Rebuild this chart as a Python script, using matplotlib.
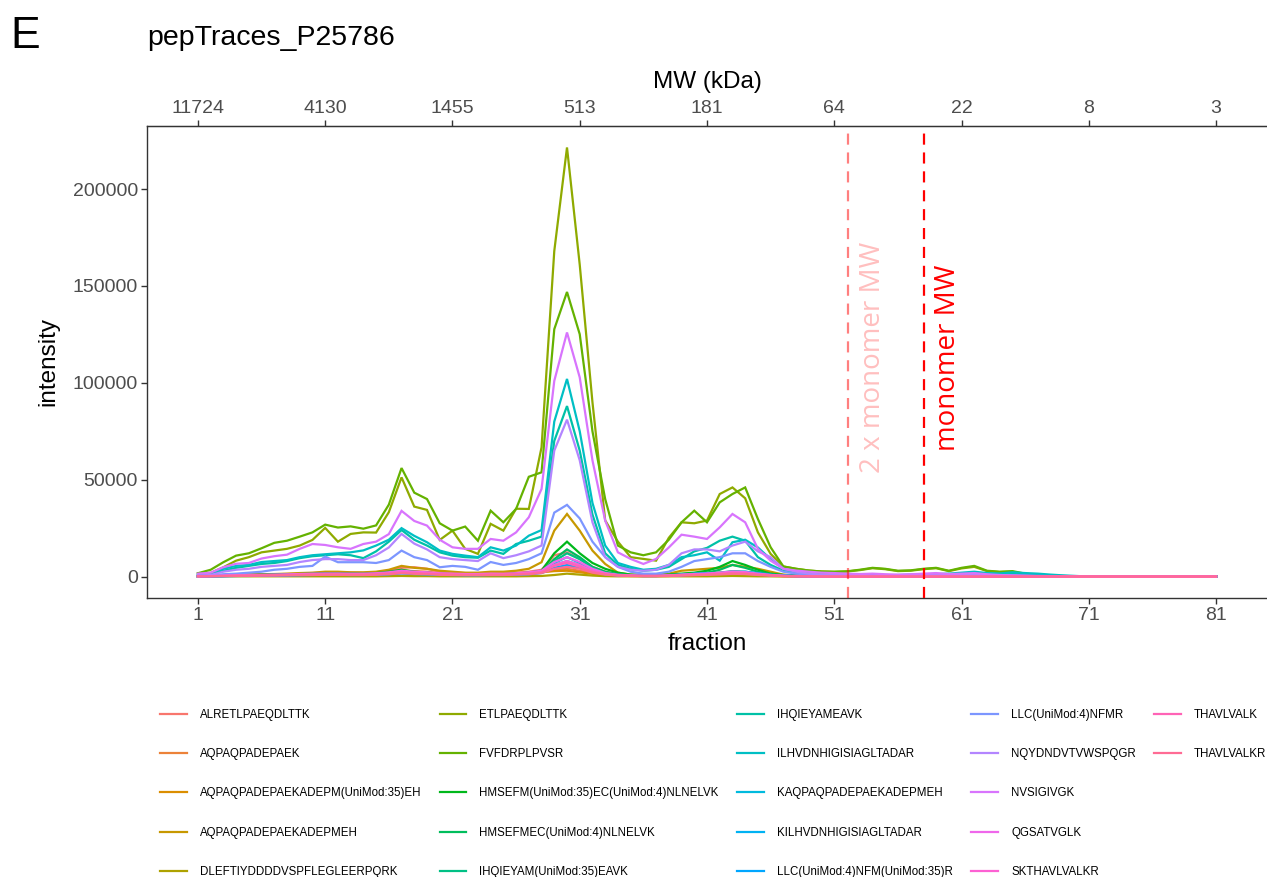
import numpy as np
import matplotlib
matplotlib.use("Agg")
import matplotlib.pyplot as plt
from matplotlib.lines import Line2D

plt.rcParams['font.family'] = ['Liberation Sans', 'DejaVu Sans']

# fractions and the MW (kDa) scale on top
fractions = np.arange(1, 82)
frac_ticks = [1, 11, 21, 31, 41, 51, 61, 71, 81]
mw_labels = ['11724', '4130', '1455', '513', '181', '64', '22', '8', '3']
y_ticks = [0, 50000, 100000, 150000, 200000]

# fraction of the monomer MW and 2 x monomer MW
monomer_frac = 58.05
dimer_frac = 52.1

# peptide intensities per fraction (1..81)
alretlpaeqdlttk = [
    300, 400, 600, 800, 900, 1000, 1200, 1300, 1500, 1800,
    2000, 2200, 2000, 1800, 2200, 3000, 4500, 4800, 4000, 2500,
    2000, 1800, 1500, 1800, 1800, 2000, 2500, 3500, 11000, 12500,
    9000, 5000, 2500, 1200, 800, 600, 600, 800, 1200, 1500,
    1800, 2000, 2500, 2200, 1500, 800, 400, 300, 200, 150,
    100, 100, 100, 100, 100, 100, 100, 100, 100, 100,
    100, 100, 100, 50, 50, 50, 0, 0, 0, 0,
    0, 0, 0, 0, 0, 0, 0, 0, 0, 0, 0]
aqpaqpadepaek = [
    200, 300, 500, 700, 800, 900, 1000, 1100, 1200, 1400,
    1600, 1700, 1600, 1500, 1700, 2200, 3200, 2800, 2500, 1800,
    1500, 1300, 1200, 1400, 1400, 1600, 2000, 2800, 3500, 4000,
    3000, 1800, 1000, 600, 400, 300, 300, 500, 800, 1000,
    1200, 1500, 2000, 1800, 1200, 600, 300, 200, 100, 100,
    50, 50, 50, 50, 50, 50, 50, 50, 50, 50,
    50, 50, 0, 0, 0, 0, 0, 0, 0, 0,
    0, 0, 0, 0, 0, 0, 0, 0, 0, 0, 0]
aqpaq_m35eh = [
    100, 200, 300, 400, 500, 600, 700, 800, 900, 1000,
    1100, 1100, 1000, 1000, 1100, 1500, 2200, 1800, 1600, 1200,
    1000, 900, 900, 1000, 1000, 1200, 1500, 2200, 2800, 3000,
    2200, 1400, 800, 500, 300, 200, 200, 300, 500, 700,
    900, 1100, 1500, 1300, 900, 500, 300, 200, 100, 100,
    0, 0, 0, 0, 0, 0, 0, 0, 0, 0,
    0, 0, 0, 0, 0, 0, 0, 0, 0, 0,
    0, 0, 0, 0, 0, 0, 0, 0, 0, 0, 0]
aqpaq_meh = [
    200, 300, 500, 800, 1000, 1200, 1300, 1500, 1800, 2000,
    2500, 2500, 2200, 2200, 2500, 3500, 5500, 4500, 4000, 3000,
    2500, 2000, 2000, 2500, 2500, 3000, 4000, 7400, 23700, 32300,
    23700, 13400, 6500, 2000, 1000, 800, 800, 1500, 3000, 3500,
    4000, 4500, 6000, 5000, 4000, 2500, 1000, 600, 400, 300,
    200, 200, 200, 200, 150, 150, 150, 150, 150, 150,
    150, 150, 100, 100, 100, 50, 0, 0, 0, 0,
    0, 0, 0, 0, 0, 0, 0, 0, 0, 0, 0]
dleftiy = [
    0, 0, 100, 100, 100, 100, 100, 100, 100, 100,
    100, 100, 100, 100, 100, 200, 300, 200, 200, 100,
    100, 100, 100, 100, 100, 100, 200, 300, 800, 1500,
    1000, 500, 200, 100, 100, 100, 100, 100, 100, 100,
    100, 200, 300, 200, 100, 100, 0, 0, 0, 0,
    0, 0, 0, 0, 0, 0, 0, 0, 0, 0,
    0, 0, 0, 0, 0, 0, 0, 0, 0, 0,
    0, 0, 0, 0, 0, 0, 0, 0, 0, 0, 0]
etlpaeqdlttk = [
    1700, 1900, 4800, 8200, 10000, 12500, 13400, 14300, 16000, 18900,
    25100, 18000, 22000, 22800, 22700, 33200, 51200, 36100, 34400, 18900,
    23700, 14300, 11700, 27200, 23700, 35000, 34900, 66700, 168000, 221500,
    161000, 90000, 29000, 18000, 10000, 9100, 8200, 20000, 28000, 27500,
    28900, 42600, 46000, 40400, 22800, 11700, 5200, 4000, 3100, 2600,
    2400, 2600, 3300, 4300, 3800, 2800, 3000, 3800, 4300, 2800,
    4200, 5000, 2800, 2300, 2500, 1300, 700, 300, 150, 80,
    0, 0, 0, 0, 0, 0, 0, 0, 0, 0, 0]
fvfdrplpvsr = [
    1700, 3500, 7400, 10800, 12000, 14600, 17400, 18500, 20600, 22800,
    26800, 25300, 25900, 24700, 26400, 37100, 56000, 43300, 40000, 27500,
    23700, 25800, 18500, 34000, 28000, 34900, 51500, 53800, 127700, 146900,
    125100, 75000, 40000, 16000, 12500, 11000, 12500, 19000, 28000, 34000,
    28000, 38300, 42600, 46000, 29700, 15100, 5200, 4000, 3100, 2600,
    2500, 2700, 3500, 4500, 4000, 3000, 3200, 4000, 4500, 3000,
    4500, 5500, 3000, 2500, 2800, 1500, 800, 400, 200, 100,
    0, 0, 0, 0, 0, 0, 0, 0, 0, 0, 0]
hmsefm_m35 = [
    100, 200, 500, 700, 900, 1000, 1100, 1200, 1300, 1500,
    1800, 1700, 1600, 1500, 1800, 2500, 3500, 2500, 2000, 1500,
    1200, 1000, 1000, 1200, 1200, 1500, 2000, 3000, 12000, 18000,
    12000, 7000, 4000, 2000, 1000, 800, 800, 1000, 1500, 2000,
    3000, 5000, 8000, 6000, 3500, 1500, 800, 500, 300, 200,
    0, 0, 0, 0, 0, 0, 0, 0, 0, 0,
    0, 0, 0, 0, 0, 0, 0, 0, 0, 0,
    0, 0, 0, 0, 0, 0, 0, 0, 0, 0, 0]
hmsefmec = [
    100, 200, 400, 600, 700, 800, 900, 1000, 1100, 1200,
    1400, 1300, 1200, 1200, 1400, 2000, 3000, 2200, 1800, 1300,
    1000, 900, 900, 1000, 1000, 1300, 1700, 2500, 9000, 14000,
    10000, 5000, 2500, 1200, 700, 600, 600, 800, 1200, 1500,
    2000, 3500, 6000, 4500, 2500, 1200, 600, 400, 200, 100,
    0, 0, 0, 0, 0, 0, 0, 0, 0, 0,
    0, 0, 0, 0, 0, 0, 0, 0, 0, 0,
    0, 0, 0, 0, 0, 0, 0, 0, 0, 0, 0]
ihqieyam_m35 = [
    100, 200, 300, 500, 600, 700, 800, 900, 1000, 1100,
    1200, 1200, 1100, 1100, 1300, 1800, 2500, 2000, 1700, 1300,
    1100, 1000, 1000, 1200, 1100, 1400, 1800, 2500, 8000, 12000,
    9000, 4500, 2000, 1000, 600, 500, 500, 700, 1000, 1300,
    1600, 2000, 2800, 2500, 1600, 900, 500, 300, 200, 100,
    0, 0, 0, 0, 0, 0, 0, 0, 0, 0,
    0, 0, 0, 0, 0, 0, 0, 0, 0, 0,
    0, 0, 0, 0, 0, 0, 0, 0, 0, 0, 0]
ihqieyameavk = [
    800, 1200, 3000, 4500, 5500, 6500, 7000, 8000, 9500, 10500,
    11000, 11500, 11000, 9500, 13000, 18000, 24000, 19000, 16000, 12500,
    10800, 10000, 9700, 13400, 11700, 16800, 18500, 20600, 70000, 88000,
    65000, 32000, 12000, 6000, 4000, 3000, 3500, 5000, 9000, 13000,
    14800, 18500, 20600, 18500, 10000, 6000, 3000, 2000, 1500, 1000,
    800, 700, 600, 500, 500, 600, 700, 800, 900, 1000,
    1200, 1500, 1200, 1000, 1300, 1000, 800, 500, 300, 100,
    0, 0, 0, 0, 0, 0, 0, 0, 0, 0, 0]
ilhvdnhigisiagltadar = [
    1000, 1500, 4000, 5500, 6000, 7500, 8000, 8500, 10000, 11000,
    11500, 12000, 12500, 13500, 16000, 19000, 25000, 21000, 17700, 13400,
    11700, 10800, 10000, 15100, 13400, 16000, 21100, 24000, 80000, 102000,
    75000, 38000, 16000, 7000, 5000, 3500, 4000, 6000, 10000, 11000,
    12500, 8200, 17700, 19000, 15000, 9000, 4000, 2500, 2000, 1500,
    1200, 1000, 900, 800, 700, 800, 1000, 1200, 1300, 1500,
    2000, 2500, 1800, 1600, 2200, 1800, 1500, 1000, 600, 300,
    0, 0, 0, 0, 0, 0, 0, 0, 0, 0, 0]
kaqpaq_meh = [
    100, 200, 300, 400, 500, 600, 700, 800, 900, 1000,
    1100, 1100, 1000, 1000, 1100, 1500, 2000, 1700, 1500, 1200,
    1000, 900, 900, 1000, 1000, 1200, 1500, 2500, 7000, 10000,
    7000, 3500, 1500, 800, 500, 400, 400, 600, 900, 1200,
    1500, 1800, 2500, 2200, 1500, 800, 400, 300, 200, 100,
    0, 0, 0, 0, 0, 0, 0, 0, 0, 0,
    0, 0, 0, 0, 0, 0, 0, 0, 0, 0,
    0, 0, 0, 0, 0, 0, 0, 0, 0, 0, 0]
kilhvdnhigisiagltadar = [
    0, 100, 200, 300, 400, 500, 600, 700, 800, 900,
    1000, 1000, 900, 900, 1000, 1300, 1800, 1500, 1300, 1000,
    900, 800, 800, 900, 900, 1100, 1300, 2000, 6000, 8000,
    6000, 3000, 1300, 700, 400, 300, 300, 500, 800, 1000,
    1300, 1600, 2200, 2000, 1300, 700, 400, 200, 100, 100,
    0, 0, 0, 0, 0, 0, 0, 0, 0, 0,
    0, 0, 0, 0, 0, 0, 0, 0, 0, 0,
    0, 0, 0, 0, 0, 0, 0, 0, 0, 0, 0]
llc_nfm_m35r = [
    0, 100, 200, 300, 300, 400, 500, 600, 700, 800,
    900, 900, 800, 800, 900, 1200, 1600, 1300, 1100, 900,
    800, 700, 700, 800, 800, 1000, 1200, 1800, 4500, 6000,
    4500, 2500, 1200, 600, 400, 300, 300, 400, 700, 1500,
    1800, 1500, 2200, 2500, 1800, 900, 500, 300, 200, 100,
    100, 100, 200, 300, 400, 500, 600, 700, 800, 900,
    1000, 900, 800, 700, 600, 400, 300, 200, 100, 0,
    0, 0, 0, 0, 0, 0, 0, 0, 0, 0, 0]
llc_nfmr = [
    300, 500, 1200, 1500, 2000, 2500, 3500, 4000, 5000, 5500,
    10300, 7400, 7400, 7400, 7000, 8500, 13400, 10000, 8500, 4800,
    5500, 5000, 3500, 7500, 6000, 7000, 9000, 12000, 33000, 37000,
    30000, 18000, 10000, 5000, 2500, 1500, 1500, 2500, 5000, 8000,
    9000, 10000, 12000, 12000, 8000, 5000, 2500, 1500, 1000, 800,
    600, 500, 400, 400, 300, 300, 400, 500, 500, 400,
    500, 600, 500, 400, 300, 200, 100, 100, 0, 0,
    0, 0, 0, 0, 0, 0, 0, 0, 0, 0, 0]
nqydndvtvwspqgr = [
    500, 800, 2500, 3500, 4000, 5000, 5500, 6000, 7500, 8500,
    9000, 9000, 8500, 8500, 11000, 15000, 22000, 17000, 14000, 10000,
    9000, 8500, 8000, 12000, 9500, 11000, 13000, 16000, 65000, 81000,
    60000, 28000, 10000, 5000, 3500, 3000, 3500, 6000, 12000, 14000,
    14000, 13000, 16000, 18000, 13000, 10000, 4000, 2500, 1500, 1000,
    800, 700, 600, 600, 500, 500, 600, 700, 800, 700,
    800, 900, 700, 600, 500, 400, 300, 200, 100, 0,
    0, 0, 0, 0, 0, 0, 0, 0, 0, 0, 0]
nvsigivgk = [
    1500, 2000, 4800, 6600, 7000, 9300, 10500, 11300, 14300, 16800,
    16300, 15100, 14300, 16800, 18000, 21900, 33900, 28700, 26300, 19000,
    15100, 14300, 14300, 19400, 18500, 22800, 30600, 45200, 101000, 126000,
    102800, 60000, 28900, 12500, 9100, 6500, 9100, 15000, 21600, 20600,
    19400, 25400, 32300, 28000, 14300, 8200, 4000, 3100, 2500, 2000,
    1800, 1500, 1300, 1500, 1200, 1000, 1200, 1500, 1800, 1300,
    1500, 1800, 1200, 800, 600, 400, 200, 100, 50, 0,
    0, 0, 0, 0, 0, 0, 0, 0, 0, 0, 0]
qgsatvglk = [
    200, 300, 500, 700, 800, 900, 1000, 1100, 1300, 1500,
    1600, 1600, 1500, 1500, 1700, 2200, 3000, 2500, 2200, 1700,
    1500, 1300, 1300, 1500, 1400, 1700, 2200, 3000, 7500, 10000,
    7500, 4000, 1800, 900, 600, 400, 400, 600, 1000, 1300,
    1600, 2000, 2600, 2300, 1500, 800, 400, 300, 200, 100,
    0, 0, 0, 0, 0, 0, 0, 0, 0, 0,
    0, 0, 0, 0, 0, 0, 0, 0, 0, 0,
    0, 0, 0, 0, 0, 0, 0, 0, 0, 0, 0]
skthavlvalkr = [
    100, 200, 400, 500, 600, 700, 800, 900, 1000, 1200,
    1300, 1300, 1200, 1200, 1400, 1800, 2500, 2100, 1800, 1400,
    1200, 1100, 1100, 1200, 1200, 1400, 1800, 2500, 6000, 8000,
    6000, 3000, 1500, 700, 500, 300, 300, 500, 800, 1100,
    1300, 1600, 2100, 1900, 1200, 700, 300, 200, 100, 100,
    0, 0, 0, 0, 0, 0, 0, 0, 0, 0,
    0, 0, 0, 0, 0, 0, 0, 0, 0, 0,
    0, 0, 0, 0, 0, 0, 0, 0, 0, 0, 0]
thavlvalk = [
    100, 200, 300, 400, 500, 600, 700, 800, 900, 1000,
    1100, 1100, 1000, 1000, 1200, 1500, 2100, 1800, 1500, 1200,
    1000, 900, 900, 1000, 1000, 1200, 1500, 2200, 5500, 7000,
    5000, 2500, 1200, 600, 400, 300, 300, 400, 700, 900,
    1100, 1400, 1800, 1600, 1000, 600, 300, 200, 100, 100,
    0, 0, 0, 0, 0, 0, 0, 0, 0, 0,
    0, 0, 0, 0, 0, 0, 0, 0, 0, 0,
    0, 0, 0, 0, 0, 0, 0, 0, 0, 0, 0]
thavlvalkr = [
    100, 100, 200, 300, 400, 500, 500, 600, 700, 800,
    900, 900, 800, 800, 900, 1200, 1700, 1400, 1200, 900,
    800, 700, 700, 800, 800, 1000, 1200, 1800, 4000, 5000,
    4000, 2000, 1000, 500, 300, 200, 200, 300, 500, 700,
    900, 1100, 1400, 1300, 800, 500, 200, 100, 100, 0,
    0, 0, 0, 0, 0, 0, 0, 0, 0, 0,
    0, 0, 0, 0, 0, 0, 0, 0, 0, 0,
    0, 0, 0, 0, 0, 0, 0, 0, 0, 0, 0]

peptides = [
    ('ALRETLPAEQDLTTK', alretlpaeqdlttk),
    ('AQPAQPADEPAEK', aqpaqpadepaek),
    ('AQPAQPADEPAEKADEPM(UniMod:35)EH', aqpaq_m35eh),
    ('AQPAQPADEPAEKADEPMEH', aqpaq_meh),
    ('DLEFTIYDDDDVSPFLEGLEERPQRK', dleftiy),
    ('ETLPAEQDLTTK', etlpaeqdlttk),
    ('FVFDRPLPVSR', fvfdrplpvsr),
    ('HMSEFM(UniMod:35)EC(UniMod:4)NLNELVK', hmsefm_m35),
    ('HMSEFMEC(UniMod:4)NLNELVK', hmsefmec),
    ('IHQIEYAM(UniMod:35)EAVK', ihqieyam_m35),
    ('IHQIEYAMEAVK', ihqieyameavk),
    ('ILHVDNHIGISIAGLTADAR', ilhvdnhigisiagltadar),
    ('KAQPAQPADEPAEKADEPMEH', kaqpaq_meh),
    ('KILHVDNHIGISIAGLTADAR', kilhvdnhigisiagltadar),
    ('LLC(UniMod:4)NFM(UniMod:35)R', llc_nfm_m35r),
    ('LLC(UniMod:4)NFMR', llc_nfmr),
    ('NQYDNDVTVWSPQGR', nqydndvtvwspqgr),
    ('NVSIGIVGK', nvsigivgk),
    ('QGSATVGLK', qgsatvglk),
    ('SKTHAVLVALKR', skthavlvalkr),
    ('THAVLVALK', thavlvalk),
    ('THAVLVALKR', thavlvalkr),
]


# ggplot2 style hue palette (HCL, l=65, c=100)
def hcl_color(h, c=100.0, l=65.0):
    hr = np.deg2rad(h)
    u, v = c * np.cos(hr), c * np.sin(hr)
    xn, yn, zn = 95.047, 100.0, 108.883
    den = xn + 15 * yn + 3 * zn
    un, vn = 4 * xn / den, 9 * yn / den
    y = yn * ((l + 16) / 116) ** 3
    up, vp = u / (13 * l) + un, v / (13 * l) + vn
    x = y * 9 * up / (4 * vp)
    z = y * (12 - 3 * up - 20 * vp) / (4 * vp)
    x, y, z = x / 100, y / 100, z / 100
    rgb = np.array([3.2406 * x - 1.5372 * y - 0.4986 * z,
                    -0.9689 * x + 1.8758 * y + 0.0415 * z,
                    0.0557 * x - 0.2040 * y + 1.0570 * z])
    rgb = np.where(rgb <= 0.0031308, 12.92 * rgb, 1.055 * np.abs(rgb) ** (1 / 2.4) - 0.055)
    return tuple(np.clip(rgb, 0, 1))


n = len(peptides)
hues = np.linspace(15, 375, n + 1)[:n]
colors = [hcl_color(h) for h in hues]

W, H = 1267, 877
fig = plt.figure(figsize=(W / 100, H / 100), dpi=100)
ax = fig.add_axes([147 / W, 1 - 598 / H, 1 - 147 / W, (598 - 126) / H])

handles = []
labels = []
for (name, vals), col in zip(peptides, colors):
    assert len(vals) == 81, name
    ax.plot(fractions, vals, color=col, lw=1.6, solid_joinstyle='miter')
    handles.append(Line2D([], [], color=col, lw=1.6))
    labels.append(name)

ymax = max(max(v) for _, v in peptides)
ax.set_xlim(1 - 0.05 * 80, 81 + 0.05 * 80)
ax.set_ylim(-0.05 * ymax, 1.05 * ymax)

# reference lines for the monomer / dimer MW
ax.axvline(dimer_frac, color=(1, 0, 0, 0.5), lw=1.6, dashes=(5, 3.5), zorder=4)
ax.axvline(monomer_frac, color='red', lw=1.6, dashes=(5, 3.5), zorder=4)
ax.text(dimer_frac + 1.95, 0.51 * ymax, '2 x monomer MW', rotation=90, color=(1, 0.75, 0.75),
        fontsize=20, family='Open Sans', ha='center', va='center')
ax.text(monomer_frac + 1.9, 0.51 * ymax, 'monomer MW', rotation=90, color='red',
        fontsize=20, family='Open Sans', ha='center', va='center')

axis_col = '#333333'
tick_col = '#4D4D4D'
for side in ['left', 'bottom', 'top']:
    ax.spines[side].set_color(axis_col)
    ax.spines[side].set_linewidth(1.0)
ax.spines['right'].set_visible(False)

ax.set_xticks(frac_ticks)
ax.set_yticks(y_ticks)
ax.set_yticklabels([str(t) for t in y_ticks])
ax.tick_params(direction='out', length=4, width=1.0, color=axis_col,
               labelcolor=tick_col, labelsize=14, pad=2.5)

top = ax.secondary_xaxis('top')
top.set_xticks(frac_ticks)
top.set_xticklabels(mw_labels)
top.tick_params(direction='out', length=4, width=1.0, color=axis_col,
                labelcolor=tick_col, labelsize=14, pad=2.5)
top.spines['top'].set_color(axis_col)

fig.text(707 / W, 1 - 644 / H, 'fraction', fontsize=17.5, ha='center', va='center')
fig.text(48 / W, 1 - 362 / H, 'intensity', fontsize=17.5, rotation=90, ha='center', va='center')
fig.text(707 / W, 1 - 82 / H, 'MW (kDa)', fontsize=17.5, ha='center', va='center')
fig.text(147 / W, 1 - 38 / H, 'pepTraces_P25786', fontsize=20.5, ha='left', va='center')
fig.text(10 / W, 1 - 36 / H, 'E', fontsize=32, ha='left', va='center')

# pad the legend to 5 x 5 slots so the columns fill like ggplot (5, 5, 5, 5, 2)
for _ in range(25 - n):
    handles.append(Line2D([], [], color='none'))
    labels.append('')
fig.legend(handles, labels, loc='upper left',
           bbox_to_anchor=(160 / W, 1 - 709 / H), ncol=5, frameon=False,
           fontsize=8.3, handlelength=2.3, handletextpad=1.15, columnspacing=1.6,
           labelspacing=2.36, borderpad=0, borderaxespad=0)

fig.savefig('out.png', dpi=100)
